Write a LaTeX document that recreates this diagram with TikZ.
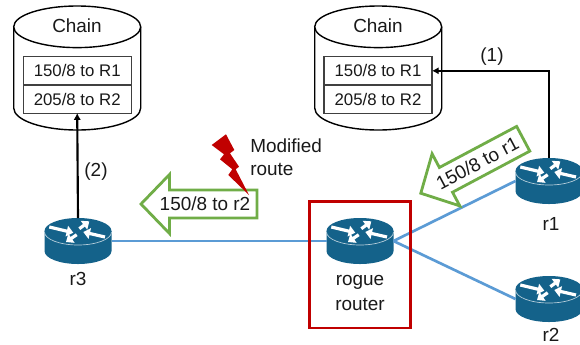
\documentclass[tikz,border=0pt]{standalone}
\usepackage{fontspec}
\setmainfont{Liberation Sans}
\usetikzlibrary{arrows.meta}
\definecolor{routerblue}{HTML}{14628A}
\definecolor{linkblue}{HTML}{5B9BD5}
\definecolor{arrowgreen}{HTML}{70AD47}
\definecolor{roguered}{HTML}{C00000}
\tikzset{
  x=0.75pt, y=-0.75pt,
  lbl/.style={font=\fontsize{14.2}{17}\selectfont, text=black!90, inner sep=0pt},
  rowlbl/.style={font=\fontsize{12.6}{15}\selectfont, text=black!90},
  routerbox/.style={minimum width=50.25pt, minimum height=34.5pt, inner sep=0pt, outer sep=0pt},
  link/.style={draw=linkblue, line width=2pt},
  feed/.style={draw=black, line width=1.6pt, -{Latex[length=5pt,width=5.5pt]}},
  rowbox/.style={draw=black!75, line width=0.85pt, minimum width=81pt, minimum height=21.2pt, inner sep=0pt, outer sep=0pt, rowlbl},
  cyl/.style={draw=black, line width=1.05pt, fill=white},
  greenarrow/.style={draw=arrowgreen, line width=2.1pt, fill=white, miter limit=10},
  marker/.style={draw=white, line width=2.4pt, -{Triangle[length=5pt,width=8pt]}},
  rogueframe/.style={draw=roguered, line width=2.2pt},
}
% name, x, y
\newcommand{\routericon}[3]{%
  \node[routerbox] (#1) at (#2,#3) {};
  \begin{scope}[shift={(#1.center)}]
    \fill[routerblue] (-33.5,-10) -- (-33.5,10) arc[x radius=33.5, y radius=13, start angle=180, end angle=0] -- (33.5,-10) -- cycle;
    \fill[routerblue] (0,-10) circle[x radius=33.5, y radius=13];
    \draw[white!70!routerblue, line width=0.5pt] (-33.5,-9) arc[x radius=33.5, y radius=13, start angle=180, end angle=0];
    \draw[marker] (-28.7,-14) -- (-4.7,-8.3);
    \draw[marker] (1.3,-12.3) -- (11.3,-19.7);
    \draw[marker] (27,-4) -- (5.3,-9);
    \draw[marker] (-1.3,-6.3) -- (-12,1);
  \end{scope}}
% x of left edge, x of right edge
\newcommand{\chaindb}[2]{%
  \path[cyl] (#1,27) -- (#1,108) arc[x radius=63.5, y radius=22, start angle=180, end angle=0] -- (#2,27);
  \draw[cyl] ({(#1+#2)/2},26.8) circle[x radius=63.5, y radius=20.8];}
% x, y, angle, text, text shift
\newcommand{\greenflag}[5]{%
  \begin{scope}[shift={(#1,#2)}, rotate=#3]
    \path[greenarrow] (-58,0) -- (-29.5,-29.5) -- (-29.5,-14) -- (58,-14) -- (58,14) -- (-29.5,14) -- (-29.5,29.5) -- cycle;
    \node[lbl, rotate=#3, anchor=center] at (#5,0) {#4};
  \end{scope}}
\begin{document}
\begin{tikzpicture}
\clip (0,0) rectangle (580,344);
\fill[white] (0,0) rectangle (580,344);

% left chain
\chaindb{13.7}{140.7}
\node[lbl] (chainL) at (77,26) {Chain};
\node[rowbox] (l1) at (77.2,70.8) {150/8 to R1};
\node[rowbox] (l2) at (77.2,99) {205/8 to R2};

% right chain
\chaindb{314.7}{441.7}
\node[lbl] (chainR) at (378,26) {Chain};
\node[rowbox] (c1) at (378,70.8) {150/8 to R1};
\node[rowbox] (c2) at (378,99) {205/8 to R2};

% routers
\routericon{r3}{78}{241}
\routericon{rogue}{360}{241}
\routericon{r1}{549}{181}
\routericon{r2}{549}{299}

% links
\draw[link] (r3.east) -- (rogue.west);
\draw[link] (rogue.east) -- (r1.west);
\draw[link] (rogue.east) -- (r2.west);

% feeds
\draw[feed] (r3.north) -- (l2.south);
\draw[feed] (r1.north) |- (c1.east);
\node[lbl] (one) at (492,57) {(1)};
\node[lbl] (two) at (96,172) {(2)};

% green flags
\greenflag{199}{204}{0}{150/8 to r2}{6}
\greenflag{472}{166}{28}{150/8 to r1}{6}

% lightning
\fill[roguered] (226,134.3) -- (211.7,145) -- (224,154.3) -- (220,159.3) -- (232.3,169.3) -- (228.3,175) -- (249,195) -- (235.7,169.3) -- (239,166.7) -- (230,153.3) -- (234.3,150) -- cycle;
\node[lbl, anchor=west] (modA) at (250,146) {Modified};
\node[lbl, anchor=west] (modB) at (250,169) {route};

% rogue frame
\draw[rogueframe] (309.3,201.3) rectangle (410.7,328);
\node[lbl] (rogueA) at (360,282) {rogue};
\node[lbl] (rogueB) at (360,304) {router};

% router labels
\node[lbl] (r3l) at (78,279) {r3};
\node[lbl] (r1l) at (551,224) {r1};
\node[lbl] (r2l) at (551,335) {r2};
\end{tikzpicture}
\end{document}
